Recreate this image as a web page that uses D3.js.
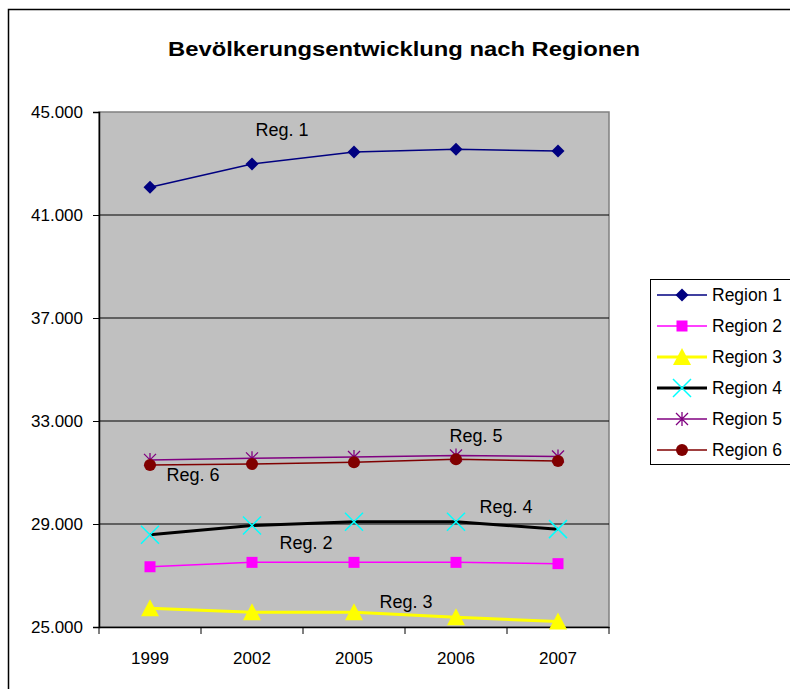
<!DOCTYPE html>
<html>
<head>
<meta charset="utf-8">
<script src="https://cdn.jsdelivr.net/npm/d3@7"></script>
<style>
  body { margin: 0; background: #fff; }
  text { font-family: "Liberation Sans", Arial, sans-serif; fill: #000; }
</style>
</head>
<body>
<script>
// Data
var years = ["1999", "2002", "2005", "2006", "2007"];
var seriesNames = ["Region 1", "Region 2", "Region 3", "Region 4", "Region 5", "Region 6"];
var region1 = [42080, 42980, 43450, 43550, 43490];
var region2 = [27340, 27510, 27510, 27510, 27460];
var region3 = [25730, 25570, 25570, 25380, 25210];
var region4 = [28580, 28940, 29090, 29090, 28800];
var region5 = [31490, 31550, 31600, 31660, 31620];
var region6 = [31290, 31330, 31400, 31510, 31450];
var yTicks = [25000, 29000, 33000, 37000, 41000, 45000];
var labelTexts = ["Reg. 1", "Reg. 2", "Reg. 3", "Reg. 4", "Reg. 5", "Reg. 6"];

var values = [region1, region2, region3, region4, region5, region6];

// styles per series
var styles = [
  { line: "#000080", width: 1.5, marker: "diamond", mfill: "#000080" },
  { line: "#FF00FF", width: 1.5, marker: "square", mfill: "#FF00FF" },
  { line: "#FFFF00", width: 3, marker: "triangle", mfill: "#FFFF00" },
  { line: "#000000", width: 3, marker: "cross", mfill: "#00FFFF" },
  { line: "#800080", width: 1.5, marker: "star", mfill: "#800080" },
  { line: "#800000", width: 1.5, marker: "circle", mfill: "#800000" }
];

// label placement: anchor year, offset px, baseline value
var labelPlace = [
  { year: "2002", dx: 30, v: 44068 },
  { year: "2002", dx: 54, v: 28029 },
  { year: "2005", dx: 52, v: 25738 },
  { year: "2006", dx: 50, v: 29427 },
  { year: "2006", dx: 20, v: 32184 },
  { year: "1999", dx: 43, v: 30670 }
];

var svgWidth = 790, svgHeight = 689;
var plot = { left: 99, right: 609, top: 112, bottom: 627 };

var svg = d3.select("body").append("svg")
  .attr("width", svgWidth)
  .attr("height", svgHeight);

// outer chart frame
svg.append("rect")
  .attr("x", 8.5).attr("y", 9.5)
  .attr("width", 800).attr("height", 700)
  .attr("fill", "#fff")
  .attr("stroke", "#000")
  .attr("stroke-width", 1.5);

// title
svg.append("text")
  .attr("x", 168)
  .attr("y", 56)
  .attr("textLength", 472)
  .attr("lengthAdjust", "spacingAndGlyphs")
  .style("font-size", "21px")
  .style("font-weight", "bold")
  .text("Bevölkerungsentwicklung nach Regionen");

var x = d3.scaleBand().domain(years).range([plot.left, plot.right]);
var y = d3.scaleLinear().domain([25000, 45000]).range([plot.bottom, plot.top]);

// plot area
svg.append("rect")
  .attr("x", plot.left).attr("y", plot.top)
  .attr("width", plot.right - plot.left)
  .attr("height", plot.bottom - plot.top)
  .attr("fill", "#C0C0C0")
  .attr("stroke", "#808080")
  .attr("stroke-width", 1.5);

// gridlines
svg.append("g").selectAll("line")
  .data(yTicks.slice(1, -1))
  .enter().append("line")
  .attr("x1", plot.left).attr("x2", plot.right)
  .attr("y1", d => y(d)).attr("y2", d => y(d))
  .attr("stroke", "#000")
  .attr("stroke-width", 1);

// y axis
var yAxis = d3.axisLeft(y)
  .tickValues(yTicks)
  .tickSize(6)
  .tickPadding(10)
  .tickFormat(d => d3.format(",")(d).replace(/,/g, "."));
var yg = svg.append("g")
  .attr("transform", `translate(${plot.left},0)`)
  .call(yAxis);
yg.select(".domain").attr("stroke", "#000").attr("stroke-width", 1.5);
yg.selectAll("text")
  .style("font-size", "17px")
  .style("font-family", "'Liberation Sans', Arial, sans-serif")
  .attr("dy", "0.35em");

// x axis
var xAxis = d3.axisBottom(x).tickSize(0).tickPadding(0);
var xg = svg.append("g")
  .attr("transform", `translate(0,${plot.bottom})`)
  .call(xAxis);
xg.select(".domain").attr("stroke", "#000").attr("stroke-width", 1.5);
xg.selectAll("text")
  .attr("y", 37)
  .attr("dy", 0)
  .style("font-size", "17px")
  .style("font-family", "'Liberation Sans', Arial, sans-serif");
// x ticks at category boundaries
xg.append("g").selectAll("line")
  .data(years.concat(["end"]))
  .enter().append("line")
  .attr("x1", (d, i) => plot.left + i * x.bandwidth())
  .attr("x2", (d, i) => plot.left + i * x.bandwidth())
  .attr("y1", 0).attr("y2", 7)
  .attr("stroke", "#000");

function cx(i) { return x(years[i]) + x.bandwidth() / 2; }

function drawMarker(g, type, fill) {
  if (type === "diamond") {
    g.append("path").attr("d", "M0,-6.5L6.5,0L0,6.5L-6.5,0Z").attr("fill", fill);
  } else if (type === "square") {
    g.append("rect").attr("x", -5.5).attr("y", -5.5).attr("width", 11).attr("height", 11).attr("fill", fill);
  } else if (type === "triangle") {
    g.append("path").attr("d", "M0,-9L9,8L-9,8Z").attr("fill", fill);
  } else if (type === "cross") {
    g.append("path").attr("d", "M-9,-9L9,9M-9,9L9,-9").attr("stroke", fill).attr("stroke-width", 1.5);
  } else if (type === "star") {
    g.append("path").attr("d", "M-6,-6L6,6M-6,6L6,-6M0,-7L0,7").attr("stroke", fill).attr("stroke-width", 1.3);
  } else if (type === "circle") {
    g.append("circle").attr("r", 6).attr("fill", fill);
  }
}

var line = d3.line().x((d, i) => cx(i)).y(d => y(d));

// draw series (Region 1 .. 6), drawing order so Region 6 sits over Region 5
values.forEach(function(vals, s) {
  var st = styles[s];
  var g = svg.append("g").attr("class", "series");
  g.append("path")
    .datum(vals)
    .attr("d", line)
    .attr("fill", "none")
    .attr("stroke", st.line)
    .attr("stroke-width", st.width);
  g.selectAll("g.m")
    .data(vals)
    .enter().append("g")
    .attr("class", "m")
    .attr("transform", (d, i) => `translate(${cx(i)},${y(d)})`)
    .each(function() { drawMarker(d3.select(this), st.marker, st.mfill); });
});

// series labels
svg.append("g").selectAll("text")
  .data(labelPlace)
  .enter().append("text")
  .attr("x", d => x(d.year) + x.bandwidth() / 2 + d.dx)
  .attr("y", d => y(d.v))
  .attr("text-anchor", "middle")
  .style("font-size", "18px")
  .text((d, i) => labelTexts[i]);

// legend
var legend = svg.append("g").attr("transform", "translate(650,279)");
legend.append("rect")
  .attr("x", 0.5).attr("y", 0.5)
  .attr("width", 160).attr("height", 185)
  .attr("fill", "#fff")
  .attr("stroke", "#000")
  .attr("stroke-width", 1);
seriesNames.forEach(function(name, s) {
  var st = styles[s];
  var row = legend.append("g").attr("transform", `translate(0,${16 + s * 31})`);
  row.append("line")
    .attr("x1", 7).attr("x2", 57)
    .attr("stroke", st.line)
    .attr("stroke-width", st.width);
  var m = row.append("g").attr("transform", "translate(32,0)");
  drawMarker(m, st.marker, st.mfill);
  row.append("text")
    .attr("x", 62).attr("y", 6)
    .style("font-size", "17.5px")
    .text(name);
});
</script>
</body>
</html>
